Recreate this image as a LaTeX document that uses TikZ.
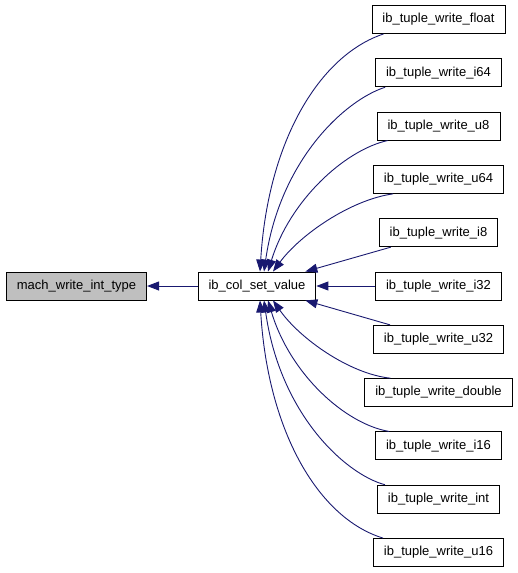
\documentclass[tikz,border=0pt]{standalone}
\usepackage{fontspec}
\setmainfont{Liberation Sans}
\usetikzlibrary{arrows.meta}
\definecolor{edgeblue}{RGB}{25,25,112}

\begin{document}
\begin{tikzpicture}[x=1pt, y=-1pt,
    fbox/.style={draw=black, line width=0.9pt, fill=white, minimum height=28pt, inner xsep=10.5pt, inner ysep=0pt, font=\fontsize{13}{15}\selectfont},
    gbox/.style={fbox, fill=black!25},
    edge/.style={draw=edgeblue, line width=0.9pt, -{Triangle[length=12pt,width=9pt]}}
]
\pgfmathsetmacro{\cx}{438.5}
\pgfmathsetmacro{\dy}{53.3}
\pgfmathsetmacro{\ty}{19.5}
\useasboundingbox (0,0) rectangle (517,573);

%% caller chain
\node[gbox] (mach)   at (76.5,\ty+5*\dy) {mach\_write\_int\_type};
\node[fbox] (colset) at (257,\ty+5*\dy)  {ib\_col\_set\_value};

%% callers of ib_col_set_value
\node[fbox] (wfloat)  at (\cx,\ty)        {ib\_tuple\_write\_float};
\node[fbox] (wi64)    at (\cx,\ty+\dy)    {ib\_tuple\_write\_i64};
\node[fbox] (wu8)     at (\cx,\ty+2*\dy)  {ib\_tuple\_write\_u8};
\node[fbox] (wu64)    at (\cx,\ty+3*\dy)  {ib\_tuple\_write\_u64};
\node[fbox] (wi8)     at (\cx,\ty+4*\dy)  {ib\_tuple\_write\_i8};
\node[fbox] (wi32)    at (\cx,\ty+5*\dy)  {ib\_tuple\_write\_i32};
\node[fbox] (wu32)    at (\cx,\ty+6*\dy)  {ib\_tuple\_write\_u32};
\node[fbox] (wdouble) at (\cx,\ty+7*\dy)  {ib\_tuple\_write\_double};
\node[fbox] (wi16)    at (\cx,\ty+8*\dy)  {ib\_tuple\_write\_i16};
\node[fbox] (wint)    at (\cx,\ty+9*\dy)  {ib\_tuple\_write\_int};
\node[fbox] (wu16)    at (\cx,\ty+10*\dy) {ib\_tuple\_write\_u16};

%% edges
\draw[edge] (colset.west) -- (mach.east);
\draw[edge] ([xshift=12]wfloat.south west) .. controls (320,55) and (268,140) .. ([xshift=3]colset.north);
\draw[edge] ([xshift=10]wi64.south west) .. controls (345,100) and (280,160) .. ([xshift=7]colset.north);
\draw[edge] ([xshift=11]wu8.south west) .. controls (345,150) and (290,200) .. ([xshift=11]colset.north);
\draw[edge] ([xshift=20]wu64.south west) .. controls (350,200) and (300,235) .. ([xshift=16]colset.north);
\draw[edge] ([xshift=12]wi8.south west) -- ([xshift=-11]colset.north east);
\draw[edge] (wi32.west) -- (colset.east);
\draw[edge] ([xshift=17]wu32.north west) -- ([xshift=-11]colset.south east);
\draw[edge] ([xshift=26]wdouble.north west) .. controls (350,374) and (300,339) .. ([xshift=16]colset.south);
\draw[edge] ([xshift=14]wi16.north west) .. controls (345,424) and (290,374) .. ([xshift=11]colset.south);
\draw[edge] ([xshift=8]wint.north west) .. controls (345,474) and (280,414) .. ([xshift=7]colset.south);
\draw[edge] ([xshift=10]wu16.north west) .. controls (320,519) and (268,434) .. ([xshift=3]colset.south);
\end{tikzpicture}
\end{document}
